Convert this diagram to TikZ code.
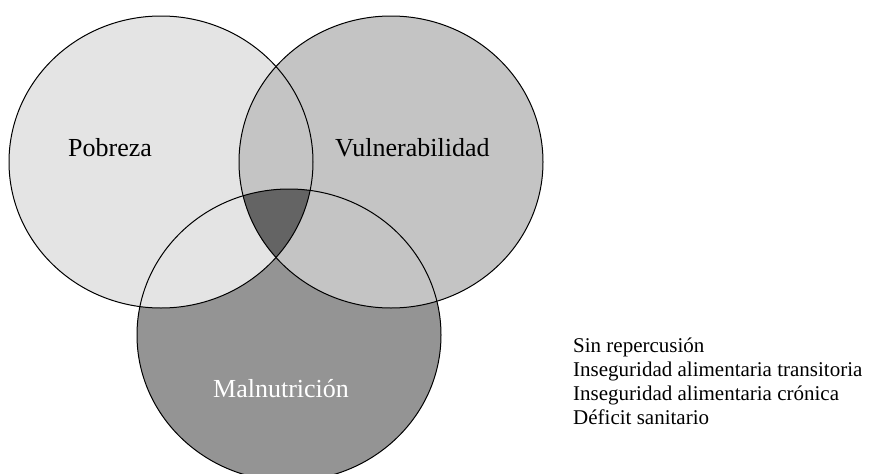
\documentclass[tikz,border=0pt]{standalone}
\usepackage{fontspec}
\setmainfont{Liberation Serif}
\definecolor{pobfill}{HTML}{E4E4E4}
\definecolor{vulfill}{HTML}{C4C4C4}
\definecolor{malfill}{HTML}{949494}
\definecolor{triple}{HTML}{646464}
\tikzset{
  venn/.style={draw=black, line width=1pt},
  bigtext/.style={inner sep=0pt, anchor=base west, font=\fontsize{26}{30}\selectfont},
  legendtext/.style={inner sep=0pt, anchor=base west, align=left, font=\fontsize{21}{24}\selectfont}
}
\begin{document}
\begin{tikzpicture}[x=1pt,y=-1pt]
\useasboundingbox (0,0) rectangle (871,474);
\fill[white] (0,0) rectangle (871,474);
\clip (0,0) rectangle (871,474);
\def\pob{(161,162) ellipse [x radius=152pt, y radius=146pt]}
\def\vul{(391,162) ellipse [x radius=152pt, y radius=146pt]}
\def\mal{(289,335) ellipse [x radius=152pt, y radius=146pt]}
\fill[malfill] \mal;
\fill[pobfill] \pob;
\fill[vulfill] \vul;
\begin{scope}
  \clip \pob;
  \clip \vul;
  \fill[triple] \mal;
\end{scope}
\draw[venn] \mal;
\draw[venn] \pob;
\draw[venn] \vul;
\node[bigtext] (pobreza) at (68,156) {Pobreza};
\node[bigtext] (vulner) at (335,156) {Vulnerabilidad};
\node[bigtext, text=white] (malnut) at (213,397) {Malnutrición};
\node[legendtext] (l1) at (573,352) {Sin repercusión};
\node[legendtext] (l2) at (573,376) {Inseguridad alimentaria transitoria};
\node[legendtext] (l3) at (573,400) {Inseguridad alimentaria crónica};
\node[legendtext] (l4) at (573,424) {Déficit sanitario};
\end{tikzpicture}
\end{document}
